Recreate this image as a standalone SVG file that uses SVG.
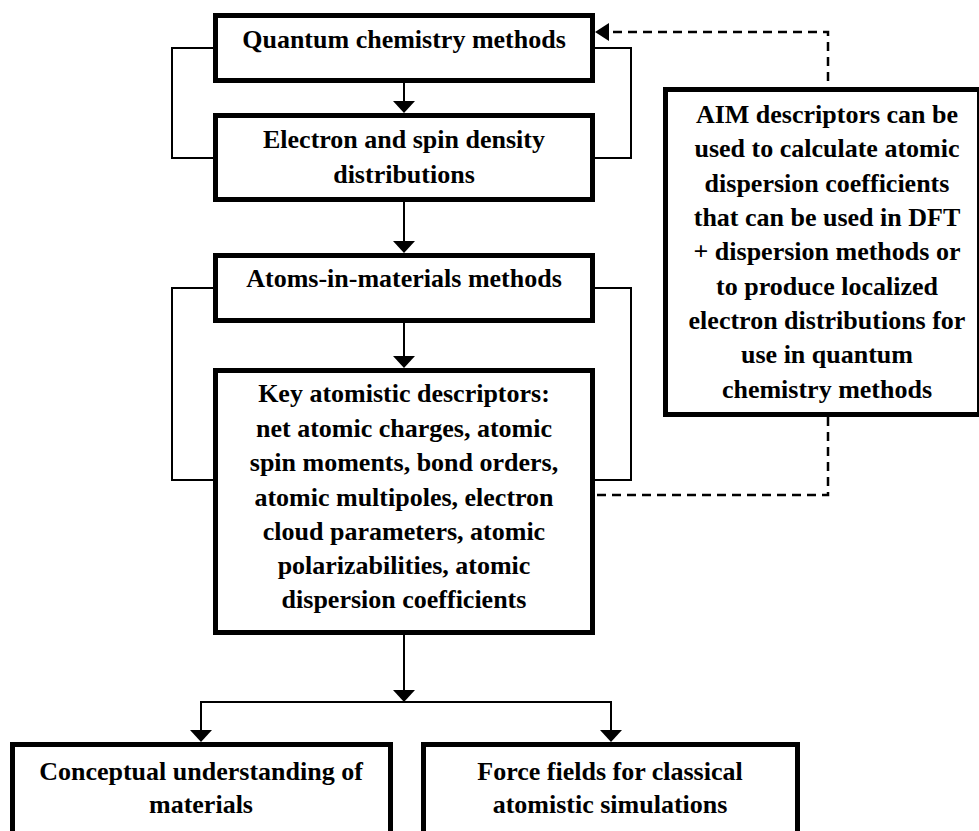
<svg xmlns="http://www.w3.org/2000/svg" width="979" height="831" viewBox="0 0 979 831">
<style>
.box{fill:#fff;stroke:#000;stroke-width:5}
.t{font-family:"Liberation Serif","Times New Roman",serif;font-weight:bold;font-size:26px;text-anchor:middle;fill:#000}
.ln{fill:none;stroke:#000;stroke-width:2}
.dash{fill:none;stroke:#000;stroke-width:2.5;stroke-dasharray:9 6}
.ah{fill:#000}
</style>
<rect width="979" height="831" fill="#fff"/>
<g id="connectors">
<path class="dash" d="M597,495 H828 V32 H609"/>
<polygon class="ah" points="595,32 609,23 609,41"/>
<polyline class="ln" points="213,48 172,48 172,158 213,158"/>
<polyline class="ln" points="595,48 631,48 631,158 595,158"/>
<polyline class="ln" points="213,288 172,288 172,480 213,480"/>
<polyline class="ln" points="595,288 631,288 631,480 595,480"/>
<line class="ln" x1="404" y1="83" x2="404" y2="102"/>
<polygon class="ah" points="393,101 415,101 404,113"/>
<line class="ln" x1="404" y1="202" x2="404" y2="242"/>
<polygon class="ah" points="393,241 415,241 404,253"/>
<line class="ln" x1="404" y1="323" x2="404" y2="357"/>
<polygon class="ah" points="393,356 415,356 404,368"/>
<line class="ln" x1="404" y1="635" x2="404" y2="691"/>
<polygon class="ah" points="393,690 415,690 404,702"/>
<polyline class="ln" points="201,731 201,702 611,702 611,731"/>
<polygon class="ah" points="190,730 212,730 201,742"/>
<polygon class="ah" points="600,730 622,730 611,742"/>
</g>
<g id="n1">
<rect class="box" x="215.5" y="15.5" width="377" height="65"/>
<text class="t" x="404" y="48">Quantum chemistry methods</text>
</g>
<g id="n2">
<rect class="box" x="215.5" y="115.5" width="377" height="84"/>
<text class="t" x="404" y="148">Electron and spin density</text>
<text class="t" x="404" y="183">distributions</text>
</g>
<g id="n3">
<rect class="box" x="215.5" y="255.5" width="377" height="65"/>
<text class="t" x="404" y="287">Atoms-in-materials methods</text>
</g>
<g id="n4">
<rect class="box" x="215.5" y="370.5" width="377" height="262"/>
<text class="t" x="404" y="402">Key atomistic descriptors:</text>
<text class="t" x="404" y="437">net atomic charges, atomic</text>
<text class="t" x="404" y="471">spin moments, bond orders,</text>
<text class="t" x="404" y="506">atomic multipoles, electron</text>
<text class="t" x="404" y="540">cloud parameters, atomic</text>
<text class="t" x="404" y="574">polarizabilities, atomic</text>
<text class="t" x="404" y="608">dispersion coefficients</text>
</g>
<g id="n5">
<rect class="box" x="665.5" y="89.5" width="314" height="325"/>
<text class="t" x="827" y="123">AIM descriptors can be</text>
<text class="t" x="827" y="157">used to calculate atomic</text>
<text class="t" x="827" y="192">dispersion coefficients</text>
<text class="t" x="827" y="226">that can be used in DFT</text>
<text class="t" x="827" y="260">+ dispersion methods or</text>
<text class="t" x="827" y="295">to produce localized</text>
<text class="t" x="827" y="329">electron distributions for</text>
<text class="t" x="827" y="363">use in quantum</text>
<text class="t" x="827" y="398">chemistry methods</text>
</g>
<g id="n6">
<rect class="box" x="12.5" y="744.5" width="378" height="110"/>
<text class="t" x="201" y="780">Conceptual understanding of</text>
<text class="t" x="201" y="813">materials</text>
</g>
<g id="n7">
<rect class="box" x="423.5" y="744.5" width="374" height="110"/>
<text class="t" x="610" y="780">Force fields for classical</text>
<text class="t" x="610" y="813">atomistic simulations</text>
</g>
</svg>
